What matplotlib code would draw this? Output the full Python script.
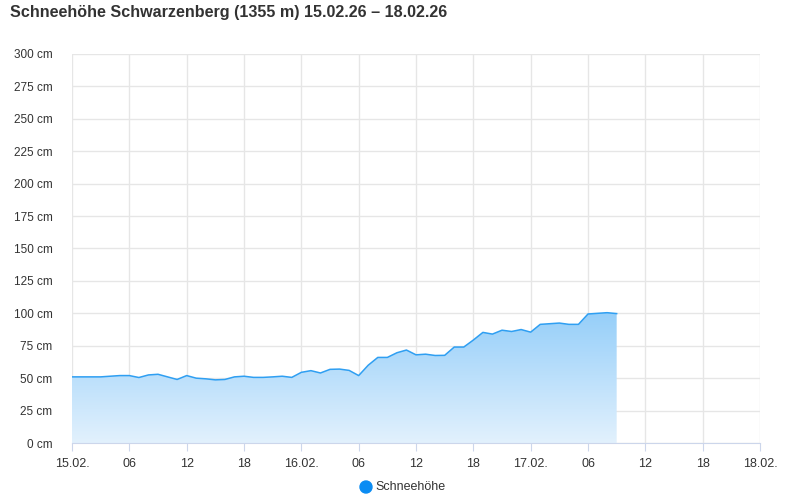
import numpy as np
import pandas as pd
import matplotlib
matplotlib.use("Agg")
import matplotlib.pyplot as plt
import matplotlib.dates as mdates
from matplotlib.colors import LinearSegmentedColormap

plt.rcParams['font.family'] = ['Liberation Sans', 'DejaVu Sans']

# Schneehöhe in cm, stündlich ab 15.02.26 00:00
snow = [51, 51, 51, 51, 51.5, 52, 52, 50.5, 52.5, 53, 51, 49,
        52, 50, 49.5, 48.7, 49, 51, 51.5, 50.6, 50.6, 51, 51.5, 50.6,
        54.5, 55.8, 54, 56.8, 57, 56, 52, 60, 66, 66, 69.6, 71.7,
        68, 68.5, 67.5, 67.6, 74, 74, 79.4, 85.3, 84, 87, 86, 87.5,
        85.5, 91.5, 92, 92.5, 91.5, 91.5, 99.5, 100, 100.5, 99.8]
times = pd.date_range("2026-02-15 00:00", periods=len(snow), freq="h")

x_ticks = pd.date_range("2026-02-15 00:00", "2026-02-18 00:00", freq="6h")
x_labels = ["15.02.", "06", "12", "18", "16.02.", "06", "12", "18",
            "17.02.", "06", "12", "18", "18.02."]
y_ticks = list(range(0, 301, 25))
y_labels = [f"{v} cm" for v in y_ticks]

fig = plt.figure(figsize=(8, 5), dpi=100)
ax = fig.add_axes([72 / 800, 57 / 500, 688 / 800, 389 / 500])

xn = mdates.date2num(times)
y = np.array(snow)

# Verlauf-Füllung
cmap = LinearSegmentedColormap.from_list("g", ["#e2f1fd", "#92cdf9"])
grad = np.linspace(0, 1, 256).reshape(-1, 1)
poly = ax.fill_between(xn, 0, y, color="none", lw=0)
img = ax.imshow(grad, cmap=cmap, aspect="auto", origin="lower",
                extent=[xn[0], xn[-1], 0, 105], zorder=1)
img.set_clip_path(poly.get_paths()[0], transform=ax.transData)
ax.plot(xn, y, color="#2f9ff2", lw=1.1, zorder=3)

ax.set_xlim(mdates.date2num(x_ticks[0]), mdates.date2num(x_ticks[-1]))
ax.set_ylim(0, 300)
ax.set_xticks(mdates.date2num(x_ticks))
ax.set_xticklabels(x_labels)
ax.set_yticks(y_ticks)
ax.set_yticklabels(y_labels)

ax.grid(True, color="#e6e6e6", lw=1, zorder=0)
ax.set_axisbelow(True)
for s in ["top", "right", "left"]:
    ax.spines[s].set_visible(False)
ax.spines["bottom"].set_color("#ccd6eb")
ax.tick_params(axis="x", length=6, color="#ccd6eb", labelsize=9,
               labelcolor="#333333", pad=5)
ax.tick_params(axis="y", length=0, labelsize=8.5, labelcolor="#333333", pad=14)

fig.text(10 / 800, 1 - 13 / 500, "Schneehöhe Schwarzenberg (1355 m) 15.02.26 – 18.02.26",
         fontsize=11.6, fontweight="bold", color="#333333", va="center", ha="left")

# Legende
fig.patches.append(matplotlib.patches.Ellipse((366 / 800, 1 - 487 / 500), 12 / 800, 12 / 500,
                                              transform=fig.transFigure, color="#0a8cf3"))
fig.text(375 / 800, 1 - 487 / 500, "Schneehöhe", fontsize=9, color="#333333",
         va="center", ha="left")

fig.savefig("out.png", dpi=100)
